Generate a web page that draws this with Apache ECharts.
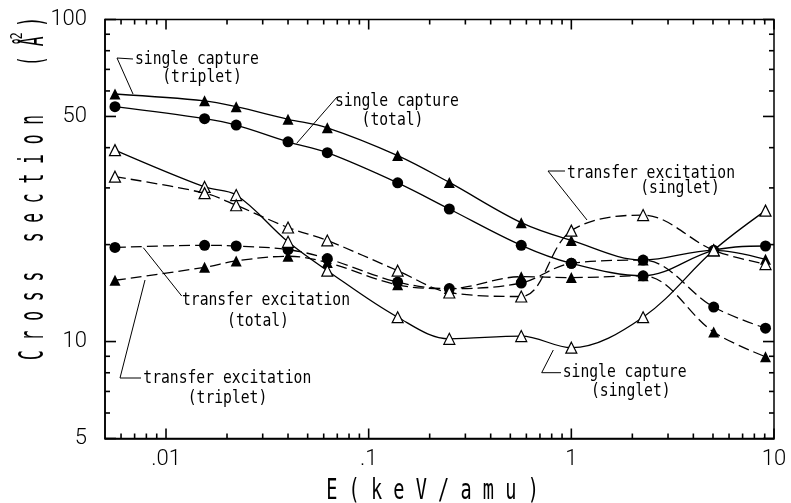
<!DOCTYPE html>
<html><head><meta charset="utf-8">
<script src="https://cdn.jsdelivr.net/npm/echarts@6/dist/echarts.min.js"></script>
<style>html,body{margin:0;padding:0;background:#fff}#c{width:791px;height:503px}</style>
</head><body><div id="c"></div>
<script>
// Energies (keV/amu)
const energies = [0.0056, 0.0155, 0.0222, 0.04, 0.0625, 0.139, 0.25, 0.566, 1.0, 2.26, 5.04, 9.08];
// Cross sections (A^2)
const scTriplet = [58.7, 55.9, 53.6, 49.0, 46.1, 37.8, 31.2, 23.4, 20.6, 17.9, 19.2, 18.0];
const scTotal   = [53.6, 49.2, 47.0, 41.7, 38.6, 31.1, 25.8, 19.9, 17.5, 16.0, 19.2, 19.8];
const scSinglet = [39.3, 30.2, 28.5, 20.4, 16.6, 11.9, 10.2, 10.4, 9.57, 11.9, 19.2, 25.5];
const teSinglet = [32.5, 28.9, 26.5, 22.6, 20.6, 16.6, 14.2, 13.8, 22.1, 24.7, 19.2, 17.4];
const teTotal   = [19.6, 19.9, 19.8, 19.3, 18.1, 15.3, 14.6, 15.2, 17.5, 17.9, 12.8, 11.0];
const teTriplet = [15.5, 17.0, 17.8, 18.4, 17.6, 15.0, 14.6, 15.9, 15.8, 16.0, 10.7, 8.97];

const xRange = [0.005, 10];
const yRange = [5, 100];
const xMajorTicks = [0.01, 0.1, 1, 10];
const xTickLabels = ['.01', '.1', '1', '10'];
const xMinorTicks = [0.006, 0.007, 0.008, 0.009,
  0.02, 0.03, 0.04, 0.05, 0.06, 0.07, 0.08, 0.09,
  0.2, 0.3, 0.4, 0.5, 0.6, 0.7, 0.8, 0.9,
  2, 3, 4, 5, 6, 7, 8, 9];
const yMajorTicks = [5, 10, 50, 100];
const yTickLabels = ['5', '10', '50', '100'];
const yMinorTicks = [6, 7, 8, 9, 20, 30, 40, 60, 70, 80, 90];

const xTitle = 'E ( k e V / a m u )';
const yTitle = 'C r o s s   s e c t i o n     ( Å )';

function labelFor(v, ticks, labels) {
  for (let i = 0; i < ticks.length; i++) {
    if (Math.abs(Math.log10(v) - Math.log10(ticks[i])) < 1e-6) return labels[i];
  }
  return '';
}

const labelFont = { fontFamily: 'Roboto', fontWeight: 300, fontSize: 22, color: '#000' };
const lineSt = { color: '#000', width: 1.5 };

function mkSeries(name, vals, symbol, filled, dashed, size) {
  return {
    name, type: 'line', xAxisIndex: 0, yAxisIndex: 0,
    data: energies.map((e, i) => [e, vals[i]]),
    smooth: 0.35, symbol, symbolSize: size, showAllSymbol: true,
    lineStyle: { color: '#000', width: 1.3, type: dashed ? [11, 5] : 'solid' },
    itemStyle: { color: filled ? '#000' : '#fff', borderColor: '#000', borderWidth: filled ? 0 : 1.2 },
    emphasis: { disabled: true }, animation: false, z: filled ? 3 : 4
  };
}

const annFont = '14.7px "DejaVu Sans Mono"';
function annText(text, x, y, align) {
  return { type: 'text', x, y, scaleY: 1.25, z: 50,
    style: { text, font: annFont, fill: '#000', align, textAlign: align, verticalAlign: 'middle', textVerticalAlign: 'middle' } };
}
function leader(points) {
  return { type: 'polyline', z: 50, shape: { points }, style: { stroke: '#000', lineWidth: 1, fill: null } };
}

const graphics = [
  annText('single capture', 135, 59, 'left'), annText('(triplet)', 202, 77, 'center'),
  leader([[133, 59], [117, 58], [133, 94]]),
  annText('single capture', 335, 101.7, 'left'), annText('(total)', 392.5, 120.7, 'center'),
  leader([[337.3, 96.7], [296.7, 143.3]]),
  annText('transfer excitation', 567, 173.3, 'left'), annText('(singlet)', 680, 188.3, 'center'),
  leader([[565, 171], [548, 171], [587, 220]]),
  annText('transfer excitation', 182, 300, 'left'), annText('(total)', 258, 321.7, 'center'),
  leader([[181.7, 296], [143.3, 247.7]]),
  annText('transfer excitation', 143.3, 378.3, 'left'), annText('(triplet)', 227.5, 398.3, 'center'),
  leader([[141, 378], [120, 378], [145, 280]]),
  annText('single capture', 562.7, 372.7, 'left'), annText('(singlet)', 630.8, 391.7, 'center'),
  leader([[561, 372.7], [541.7, 372.7], [553.3, 350]]),
  { type: 'text', x: 432.5, y: 491.7, scaleY: 1.5, z: 50,
    style: { text: xTitle, font: '18.6px "DejaVu Sans Mono"', fill: '#000', align: 'center', textAlign: 'center', verticalAlign: 'middle', textVerticalAlign: 'middle' } },
  { type: 'text', x: 34, y: 360, rotation: Math.PI / 2, scaleY: 2.1, z: 50,
    style: { text: yTitle, font: '16.3px "DejaVu Sans Mono"', fill: '#000', align: 'left', textAlign: 'left', verticalAlign: 'middle', textVerticalAlign: 'middle' } },
  { type: 'text', x: 18, y: 36, rotation: Math.PI / 2, scaleY: 1.3, z: 50,
    style: { text: '2', font: '12px "DejaVu Sans Mono"', fill: '#000', align: 'center', textAlign: 'center', verticalAlign: 'middle', textVerticalAlign: 'middle' } }
];

const chart = echarts.init(document.getElementById('c'), null, { renderer: 'canvas' });
chart.setOption({
  animation: false,
  backgroundColor: '#fff',
  grid: { left: 105, right: 17, top: 19.5, bottom: 64.5, containLabel: false,
    show: true, borderColor: '#000', borderWidth: 1.5, backgroundColor: 'transparent' },
  xAxis: {
    type: 'log', logBase: 10, min: xRange[0], max: xRange[1], position: 'bottom',
    axisLine: { show: true, onZero: false, lineStyle: lineSt },
    axisTick: { show: false },
    axisLabel: Object.assign({ show: true, margin: 10, customValues: xMajorTicks,
      formatter: v => labelFor(v, xMajorTicks, xTickLabels) }, labelFont),
    splitLine: { show: false }, minorTick: { show: false }
  },
  yAxis: {
    type: 'log', logBase: 10, min: yRange[0], max: yRange[1], position: 'left',
    axisLine: { show: true, onZero: false, lineStyle: lineSt },
    axisTick: { show: false },
    axisLabel: Object.assign({ show: true, margin: 18, customValues: yMajorTicks,
      formatter: v => labelFor(v, yMajorTicks, yTickLabels) }, labelFont),
    splitLine: { show: false }, minorTick: { show: false }
  },
  series: [
    mkSeries('single capture (triplet)', scTriplet, 'triangle', true, false, 11),
    mkSeries('single capture (total)', scTotal, 'circle', true, false, 11),
    mkSeries('single capture (singlet)', scSinglet, 'triangle', false, false, 11),
    mkSeries('transfer excitation (singlet)', teSinglet, 'triangle', false, true, 11),
    mkSeries('transfer excitation (total)', teTotal, 'circle', true, true, 11),
    mkSeries('transfer excitation (triplet)', teTriplet, 'triangle', true, true, 11)
  ]
});

// log-spaced tick marks on all four sides, positioned through the axis scales
const MAJOR_X = 10, MAJOR_Y = 11, MINOR_LEN = 5;
const tickGraphics = [];
const xAxisObj = chart.getModel().getComponent('xAxis', 0).axis;
const yAxisObj = chart.getModel().getComponent('yAxis', 0).axis;
const bottomY = chart.convertToPixel({ yAxisIndex: 0 }, yRange[0]);
const topY = chart.convertToPixel({ yAxisIndex: 0 }, yRange[1]);
const leftX = chart.convertToPixel({ xAxisIndex: 0 }, xRange[0]);
const rightX = chart.convertToPixel({ xAxisIndex: 0 }, xRange[1]);
const tickStyle = { stroke: '#000', lineWidth: 1.6 };
function addX(v, len) {
  const px = chart.convertToPixel({ xAxisIndex: 0 }, v);
  tickGraphics.push({ type: 'line', z: 40, shape: { x1: px, y1: bottomY, x2: px, y2: bottomY - len }, style: Object.assign({}, tickStyle) });
  tickGraphics.push({ type: 'line', z: 40, shape: { x1: px, y1: topY, x2: px, y2: topY + len }, style: Object.assign({}, tickStyle) });
}
function addY(v, len) {
  const py = chart.convertToPixel({ yAxisIndex: 0 }, v);
  tickGraphics.push({ type: 'line', z: 40, shape: { x1: leftX, y1: py, x2: leftX + len, y2: py }, style: Object.assign({}, tickStyle) });
  tickGraphics.push({ type: 'line', z: 40, shape: { x1: rightX, y1: py, x2: rightX - len, y2: py }, style: Object.assign({}, tickStyle) });
}
xMajorTicks.forEach(v => addX(v, MAJOR_X));
xMinorTicks.forEach(v => addX(v, MINOR_LEN));
yMajorTicks.forEach(v => addY(v, MAJOR_Y));
yMinorTicks.forEach(v => addY(v, MINOR_LEN));

chart.setOption({ graphic: graphics.concat(tickGraphics) });
</script></body></html>
